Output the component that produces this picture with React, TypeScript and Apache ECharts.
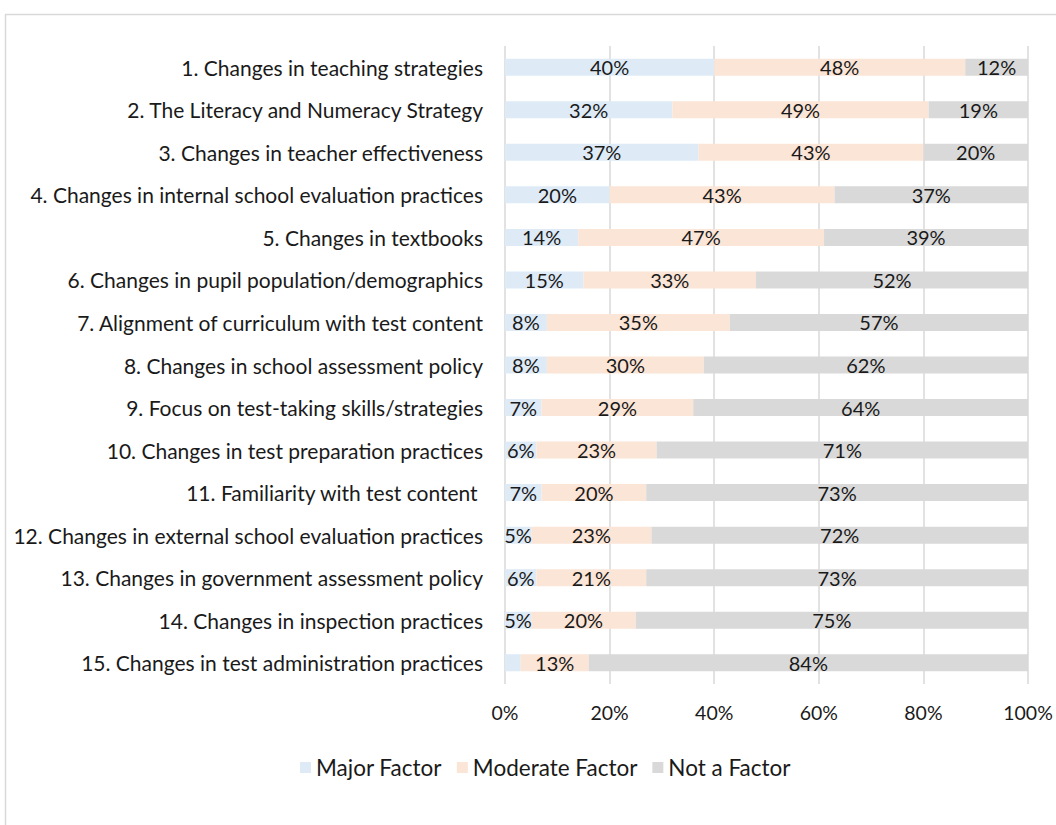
import React, { useEffect, useRef } from "react";
import * as echarts from "echarts";

const categories = [
  "1. Changes in teaching strategies",
  "2. The Literacy and Numeracy Strategy",
  "3. Changes in teacher effectiveness",
  "4. Changes in internal school evaluation practices",
  "5. Changes in textbooks",
  "6. Changes in pupil population/demographics",
  "7. Alignment of curriculum with test content",
  "8. Changes in school assessment policy",
  "9. Focus on test-taking skills/strategies",
  "10. Changes in test preparation practices",
  "11. Familiarity with test content ",
  "12. Changes in external school evaluation practices",
  "13. Changes in government assessment policy",
  "14. Changes in inspection practices",
  "15. Changes in test administration practices",
];

const majorFactor = [40, 32, 37, 20, 14, 15, 8, 8, 7, 6, 7, 5, 6, 5, 3];
const moderateFactor = [48, 49, 43, 43, 47, 33, 35, 30, 29, 23, 20, 23, 21, 20, 13];
const notAFactor = [12, 19, 20, 37, 39, 52, 57, 62, 64, 71, 73, 72, 73, 75, 84];
const hiddenMajorLabels = [14];

const xTicks = [0, 20, 40, 60, 80, 100];

const FONT = "Lato";

export default function App() {
  const ref = useRef<HTMLDivElement>(null);
  useEffect(() => {
    if (!ref.current) return;
    const chart = echarts.init(ref.current, undefined, { renderer: "svg" });
    const labelStyle = {
      show: true,
      position: "inside",
      formatter: "{c}%",
      color: "#1a1a1a",
      fontFamily: FONT,
      fontSize: 20,
    };
    const mk = (name: string, data: number[], color: string, hidden: number[] = []) => ({
      name,
      type: "bar",
      stack: "total",
      barWidth: "40%",
      itemStyle: { color },
      label: labelStyle,
      emphasis: { disabled: true },
      data: data.map((v, i) =>
        hidden.includes(i) ? { value: v, label: { show: false } } : v
      ),
    });
    chart.setOption({
      animation: false,
      backgroundColor: "#ffffff",
      graphic: [
        {
          type: "rect",
          shape: { x: 5.5, y: 14.5, width: 1100, height: 900 },
          style: { fill: "none", stroke: "#d9d9d9", lineWidth: 1.5 },
          silent: true,
        },
      ],
      grid: { left: 505, right: 28, top: 46, bottom: 141, containLabel: false },
      legend: {
        top: 751,
        left: 295,
        itemWidth: 11,
        itemHeight: 11,
        itemGap: 15,
        icon: "rect",
        textStyle: { fontFamily: FONT, fontSize: 22.5, color: "#1a1a1a" },
        data: ["Major Factor", "Moderate Factor", "Not a Factor"],
      },
      xAxis: {
        type: "value",
        min: 0,
        max: 100,
        interval: 20,
        axisLine: { show: false },
        axisTick: { show: false },
        splitLine: { show: true, lineStyle: { color: "#d9d9d9", width: 1.5 } },
        axisLabel: {
          formatter: (v: number) => (xTicks.includes(v) ? v + "%" : ""),
          fontFamily: FONT,
          fontSize: 19.5,
          color: "#1a1a1a",
          margin: 18,
        },
      },
      yAxis: {
        type: "category",
        inverse: true,
        data: categories,
        axisLine: { show: false },
        axisTick: { show: false },
        axisLabel: {
          fontFamily: FONT,
          fontSize: 21,
          color: "#1a1a1a",
          margin: 22,
        },
      },
      series: [
        mk("Major Factor", majorFactor, "#deebf7", hiddenMajorLabels),
        mk("Moderate Factor", moderateFactor, "#fbe5d6"),
        mk("Not a Factor", notAFactor, "#d9d9d9"),
      ],
    });
    return () => chart.dispose();
  }, []);
  return (
    <div
      ref={ref}
      style={{ position: "fixed", left: 0, top: 0, width: 1056, height: 825 }}
    />
  );
}
